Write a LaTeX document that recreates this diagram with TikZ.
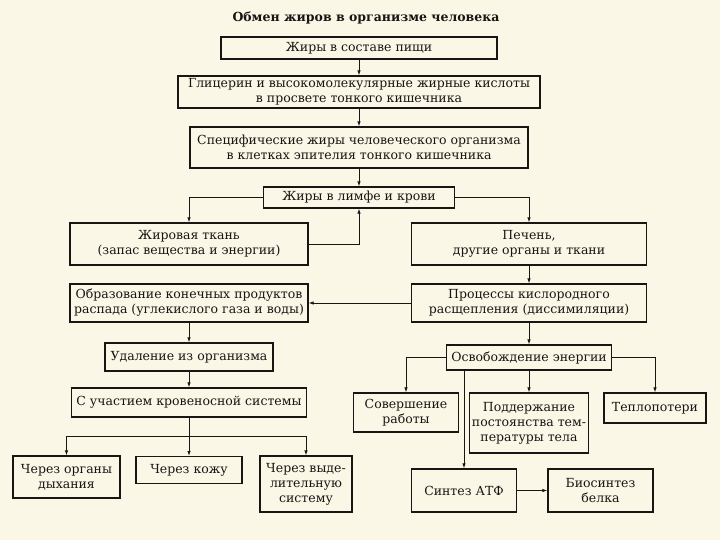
\documentclass[tikz,border=0pt]{standalone}
\usepackage{fontspec}
\setmainfont{DejaVu Serif}
\usepackage{tikz}
\usepackage{xcolor}
\usetikzlibrary{positioning,arrows.meta,calc}

\definecolor{paper}{RGB}{251,247,231}
\definecolor{ink}{RGB}{24,22,20}

\begin{document}
\begin{tikzpicture}[
          x=1pt, y=-1pt,
          box/.style={draw=ink, line width=1.1pt, align=center, inner sep=2pt,
                      font=\fontsize{12.5}{15}\selectfont, text=ink},
          ttl/.style={font=\fontsize{12.5}{14}\selectfont\bfseries, text=ink},
          arr/.style={draw=ink, line width=0.9pt, -{Latex[length=5pt,width=3.5pt]}},
          ln/.style={draw=ink, line width=0.9pt}
      ]
        \fill[paper] (0,0) rectangle (720,540);
        \useasboundingbox (0,0) rectangle (720,540);

        \node[ttl] (title) at (366,18) {Обмен жиров в организме человека};

        % main column
        \node[box, minimum width=276, minimum height=22] (food) at (359,48) {Жиры в составе пищи};
        \node[box, minimum width=362, minimum height=32] (glyc) at (359,92)
            {Глицерин и высокомолекулярные жирные кислоты\\в просвете тонкого кишечника};
        \node[box, minimum width=338, minimum height=41] (spec) at (359,147.5)
            {Специфические жиры человеческого организма\\в клетках эпителия тонкого кишечника};
        \node[box, minimum width=191, minimum height=21] (lymph) at (359,197.5) {Жиры в лимфе и крови};

        % left branch
        \node[box, minimum width=238, minimum height=42] (adip) at (189,244)
            {Жировая ткань\\(запас вещества и энергии)};
        \node[box, minimum width=238, minimum height=38] (endprod) at (189,303)
            {Образование конечных продуктов\\распада (углекислого газа и воды)};
        \node[box, minimum width=168, minimum height=28] (remov) at (189,357) {Удаление из организма};
        \node[box, minimum width=235, minimum height=29] (blood) at (189,402.5) {С участием кровеносной системы};
        \node[box, minimum width=107, minimum height=42] (breath) at (66.5,477) {Через органы\\дыхания};
        \node[box, minimum width=106, minimum height=27, anchor=north] (skin) at (189,456) {Через кожу};
        \node[box, minimum width=92, minimum height=56] (excr) at (306,484) {Через выде-\\лительную\\систему};

        % right branch
        \node[box, minimum width=235, minimum height=42] (liver) at (529,244)
            {Печень,\\другие органы и ткани};
        \node[box, minimum width=235, minimum height=38] (oxid) at (529,303)
            {Процессы кислородного\\расщепления (диссимиляции)};
        \node[box, minimum width=165, minimum height=25] (energy) at (529,357.5) {Освобождение энергии};
        \node[box, minimum width=105, minimum height=39] (work) at (406,412.5) {Совершение\\работы};
        \node[box, minimum width=114, minimum height=60] (temp) at (529,423)
            {Поддержание\\постоянства тем-\\пературы тела};
        \node[box, minimum width=102, minimum height=30] (heat) at (655,408) {Теплопотери};
        \node[box, minimum width=105, minimum height=43] (atp) at (464,490.5) {Синтез АТФ};
        \node[box, minimum width=105, minimum height=43] (prot) at (600.5,490.5) {Биосинтез\\белка};

        % connectors
        \draw[arr] (food) -- (glyc);
        \draw[arr] (glyc) -- (spec);
        \draw[arr] (spec) -- (lymph);
        \draw[arr] (lymph.west) -| (adip.north);
        \draw[arr] (adip.east) -| (lymph.south);
        \draw[arr] (lymph.east) -| (liver.north);
        \draw[arr] (liver) -- (oxid);
        \draw[arr] (oxid.west) -- (endprod.east);
        \draw[arr] (endprod) -- (remov);
        \draw[arr] (remov) -- (blood);
        \coordinate (split) at (189,436);
        \draw[ln] (blood.south) -- (split);
        \draw[arr] (split) -| (breath.north);
        \draw[arr] (split) -- (skin.north);
        \draw[arr] (split) -| (excr.north);
        \draw[arr] (oxid) -- (energy);
        \draw[arr] (energy.west) -| (work.north);
        \draw[arr] (energy) -- (temp);
        \draw[arr] (energy.east) -| (heat.north);
        \draw[arr] (energy.south -| atp.north) -- (atp.north);
        \draw[arr] (atp) -- (prot);
      \end{tikzpicture}
\end{document}
